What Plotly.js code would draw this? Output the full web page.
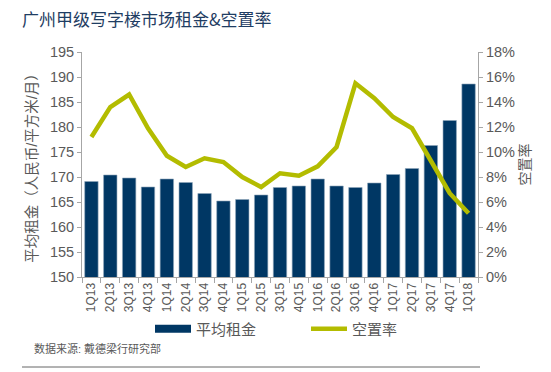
<!DOCTYPE html>
<html><head><meta charset="utf-8">
<script src="https://cdn.plot.ly/plotly-3.0.1.min.js"></script>
<style>html,body{margin:0;padding:0;background:#fff}#c{width:551px;height:372px}</style>
</head><body><div id="c"></div>
<script>
const quarters = ["1Q13","2Q13","3Q13","4Q13","1Q14","2Q14","3Q14","4Q14","1Q15","2Q15","3Q15","4Q15","1Q16","2Q16","3Q16","4Q16","1Q17","2Q17","3Q17","4Q17","1Q18"];
const rent = [169.1,170.4,169.8,168.0,169.6,168.9,166.7,165.2,165.5,166.4,167.9,168.2,169.6,168.2,167.9,168.8,170.5,171.7,176.3,181.3,188.6];
const vacancy = [11.2,13.6,14.6,11.9,9.7,8.8,9.5,9.2,8.0,7.2,8.3,8.1,8.85,10.4,15.5,14.3,12.8,11.9,9.3,6.7,5.1];
const leftTicks = [150,155,160,165,170,175,180,185,190,195];
const rightTicks = [0,2,4,6,8,10,12,14,16,18];

const FONT = "Liberation Sans, Arial, Noto Sans CJK SC, sans-serif";
const NAVY = "#003764";
const OLIVE = "#b3bc00";
const GRAY = "#595959";

const data = [
  {type:"bar", x:quarters, y:rent, name:"平均租金", marker:{color:NAVY, line:{color:"#8fa6bb", width:0.6}}, showlegend:false},
  {type:"scatter", mode:"lines", x:quarters, y:vacancy, yaxis:"y2", name:"空置率", line:{color:OLIVE, width:4.5}, showlegend:false},
  {type:"scatter", mode:"lines", x:[null], y:[null], name:"平均租金", line:{color:NAVY, width:8}, showlegend:true},
  {type:"scatter", mode:"lines", x:[null], y:[null], yaxis:"y2", name:"空置率", line:{color:OLIVE, width:4.5}, showlegend:true}
];

const plotW = 551-82-73, plotH = 372-52-95;
const px2x = p => (p-82)/plotW;
const px2y = p => (372-95-p)/plotH;

const layout = {
  width:551, height:372,
  margin:{l:82, r:73, t:52, b:95},
  paper_bgcolor:"#fff", plot_bgcolor:"#fff",
  font:{family:FONT, color:GRAY, size:14},
  bargap:0.29,
  title:{text:"广州甲级写字楼市场租金&空置率", x:0.04, xanchor:"left", y:0.945, yanchor:"middle",
         font:{family:"Noto Sans CJK SC, sans-serif", size:17, color:"#1f3d63"}},
  xaxis:{type:"category", tickmode:"array", tickvals:quarters, ticktext:quarters, tickangle:-90, automargin:false,
         tickfont:{size:12, color:GRAY}, showline:true, linecolor:"#a6a6a6", linewidth:1,
         ticks:"outside", ticklen:5, tickcolor:"#a6a6a6", tickson:"boundaries", showgrid:false, zeroline:false},
  yaxis:{range:[150,195], tickvals:leftTicks, ticktext:leftTicks.map(String), showline:true, linecolor:"#a6a6a6", linewidth:1,
         ticks:"outside", ticklen:4, tickcolor:"#a6a6a6", showgrid:false, zeroline:false, tickfont:{size:14.5, color:GRAY},
         title:{text:"平均租金（人民币/平方米/月）", font:{size:14.5, color:GRAY}, standoff:8}},
  yaxis2:{overlaying:"y", side:"right", range:[0,18], tickvals:rightTicks, ticktext:rightTicks.map(v=>v+"%"), showline:true,
          linecolor:"#a6a6a6", linewidth:1, ticks:"outside", ticklen:4, tickcolor:"#a6a6a6", showgrid:false, zeroline:false,
          tickfont:{size:14.5, color:GRAY}, title:{text:"空置率", font:{size:14, color:GRAY}, standoff:6}},
  legend:{orientation:"h", x:px2x(150), xanchor:"left", y:px2y(329), yanchor:"middle", font:{size:15, color:GRAY},
          itemwidth:36, traceorder:"normal", entrywidth:105},
  annotations:[
    {text:"数据来源: 戴德梁行研究部", xref:"paper", yref:"paper", x:px2x(32), y:px2y(348), xanchor:"left", yanchor:"middle",
     showarrow:false, font:{size:11, color:GRAY}}
  ],
  shapes:[
    {type:"line", xref:"paper", yref:"paper", x0:px2x(22), x1:px2x(480), y0:px2y(367), y1:px2y(367), line:{color:"#666", width:1}}
  ]
};
Plotly.newPlot("c", data, layout, {displayModeBar:false, staticPlot:true});
</script></body></html>
